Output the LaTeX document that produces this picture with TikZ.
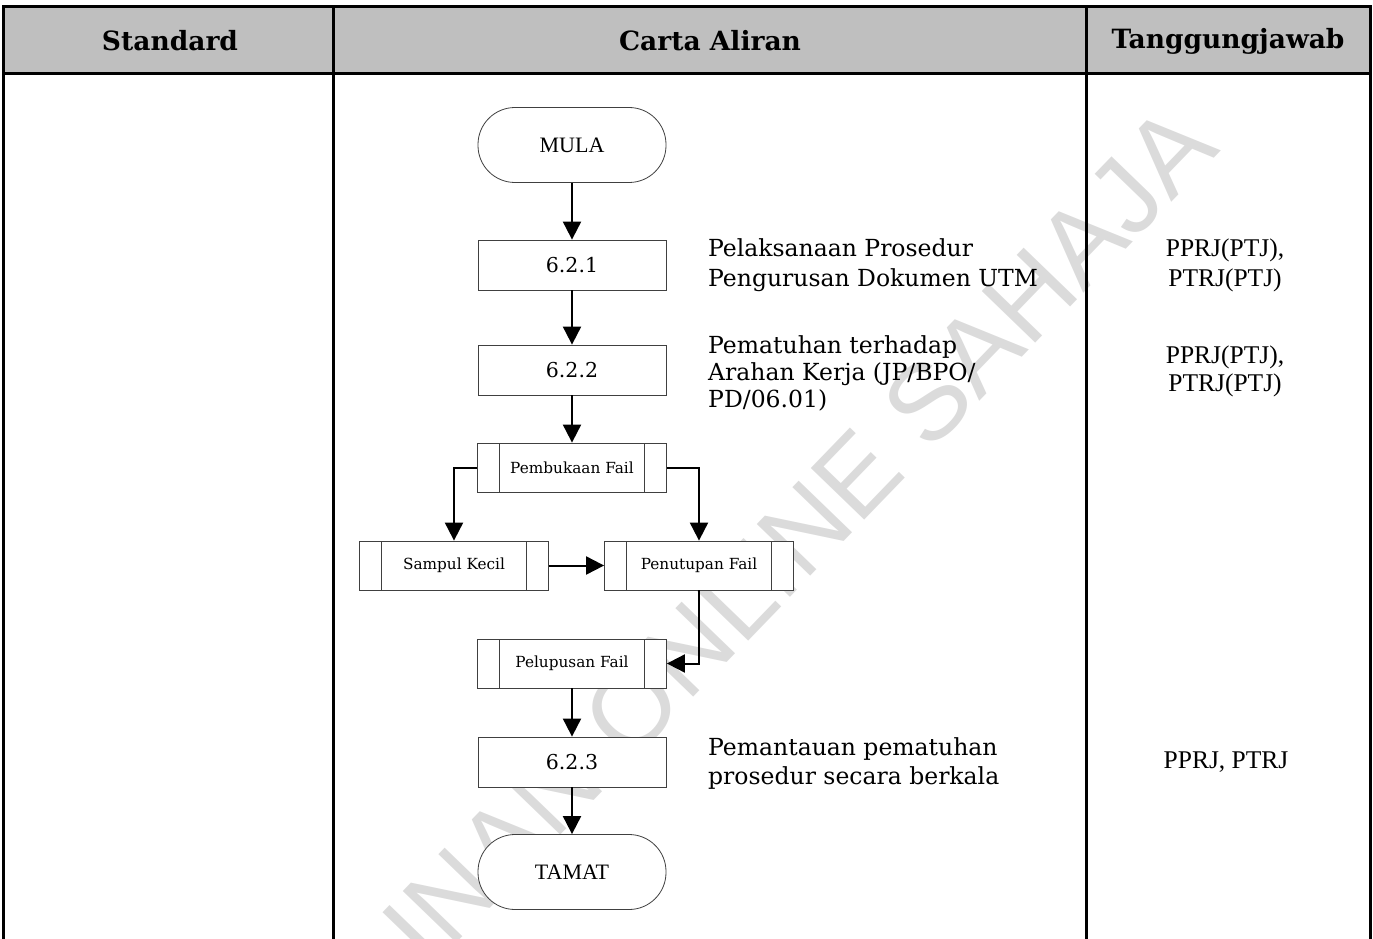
\documentclass[tikz,border=0pt]{standalone}
\usepackage{fontspec}
\setmainfont{DejaVu Serif}
\newfontfamily\timesf{Liberation Serif}
\newfontfamily\wmfont{Liberation Sans}
\usetikzlibrary{arrows.meta}
\begin{document}
\begin{tikzpicture}[x=1pt,y=-1pt,
  proc/.style={draw=black!75, fill=white, line width=0.8pt, minimum width=188pt, minimum height=50pt, inner sep=0pt, font=\fontsize{20.5}{24}\selectfont},
  term/.style={draw=black!75, fill=white, line width=0.8pt, rounded corners=37pt, minimum width=188pt, minimum height=75pt, inner sep=0pt, font=\timesf\fontsize{22}{24}\selectfont},
  subp/.style={proc, minimum width=189pt, minimum height=49pt, font=\fontsize{15.3}{17}\selectfont,
    path picture={\draw[black!75,line width=0.8pt]
      ([xshift=22pt]path picture bounding box.north west) -- ([xshift=22pt]path picture bounding box.south west)
      ([xshift=-22pt]path picture bounding box.north east) -- ([xshift=-22pt]path picture bounding box.south east);}},
  flow/.style={-{Triangle[length=18pt,width=18pt]}, line width=2pt},
  side/.style={anchor=west, align=left, inner sep=0pt},
  resp/.style={align=center, inner sep=0pt},
  head/.style={font=\bfseries\fontsize{26.5}{30}\selectfont},
  tline/.style={line width=3pt, line cap=rect}
]
\useasboundingbox (0,0) rectangle (1373,939);
% header background
\fill[black!25] (3,7) rectangle (1370,74);
% watermark
\begin{scope}
\clip (0,0) rectangle (1373,939);
\node[rotate=46, anchor=east, text=black!14, inner sep=0pt, font=\wmfont\fontsize{108}{108}\selectfont] (wm) at (1195,125) {SALINAN ONLINE SAHAJA};
\end{scope}
% table lines
\draw[tline] (3,939) -- (3,7) -- (1370,7) -- (1370,939);
\draw[tline] (3,74) -- (1370,74);
\draw[tline] (333,7) -- (333,939);
\draw[tline] (1086,7) -- (1086,939);
% headers
\node[head] (h1) at (170,41) {Standard};
\node[head] (h2) at (710,41) {Carta Aliran};
\node[head] (h3) at (1228,41) {Tanggungjawab};
% flow nodes
\node[term] (mula) at (572,145) {MULA};
\node[proc] (b1) at (572,265) {6.2.1};
\node[proc] (b2) at (572,370) {6.2.2};
\node[subp] (pf) at (572,467.5) {Pembukaan Fail};
\node[subp] (sk) at (454,565.5) {Sampul Kecil};
\node[subp] (pt) at (699,565.5) {Penutupan Fail};
\node[subp] (pl) at (572,663.5) {Pelupusan Fail};
\node[proc] (b3) at (572,762) {6.2.3};
\node[term] (tamat) at (572,872) {TAMAT};
% side descriptions
\node[side, font=\fontsize{23.5}{30}\selectfont] (s1) at (708,265) {Pelaksanaan Prosedur\\Pengurusan Dokumen UTM};
\node[side, font=\fontsize{23.5}{27}\selectfont] (s2) at (708,373) {Pematuhan terhadap\\Arahan Kerja (JP/BPO/\\PD/06.01)};
\node[side, font=\fontsize{23.5}{29}\selectfont] (s3) at (708,764) {Pemantauan pematuhan\\prosedur secara berkala};
% responsibilities
\node[resp, font=\timesf\fontsize{25.5}{30}\selectfont] (r1) at (1225,265) {PPRJ(PTJ),\\PTRJ(PTJ)};
\node[resp, font=\timesf\fontsize{25.5}{28}\selectfont] (r2) at (1225,371) {PPRJ(PTJ),\\PTRJ(PTJ)};
\node[resp, font=\timesf\fontsize{25.5}{28}\selectfont] (r3) at (1226,762) {PPRJ, PTRJ};
% connectors
\draw[flow] (mula) -- (b1);
\draw[flow] (b1) -- (b2);
\draw[flow] (b2) -- (pf);
\draw[flow] (pf.west) -| (sk.north);
\draw[flow] (pf.east) -| (pt.north);
\draw[flow] (sk) -- (pt);
\draw[flow] (pt.south) |- (pl.east);
\draw[flow] (pl) -- (b3);
\draw[flow] (b3) -- (tamat);
\end{tikzpicture}
\end{document}
